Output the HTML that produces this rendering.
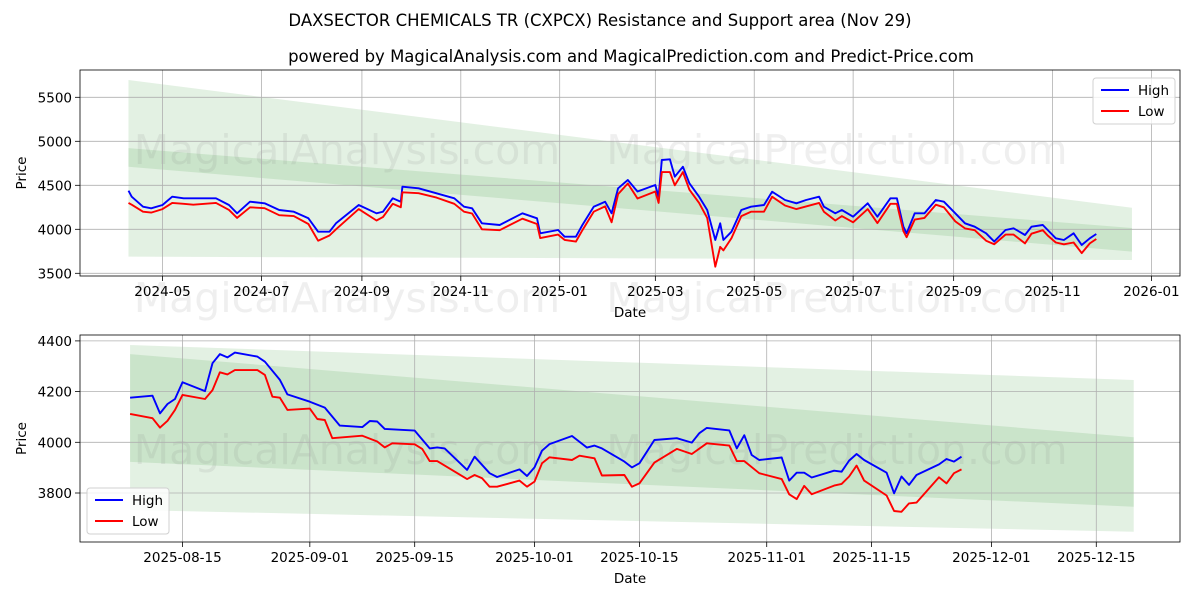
<!DOCTYPE html>
<html><head><meta charset="utf-8"><style>
html,body{margin:0;padding:0;background:#fff}
svg{display:block;font-family:"DejaVu Sans","Liberation Sans",sans-serif}
</style></head><body>
<svg id="c" width="1200" height="600" viewBox="0 0 1200 600" xmlns="http://www.w3.org/2000/svg">
<text x="600" y="26" text-anchor="middle" font-size="16.5" fill="#000">DAXSECTOR CHEMICALS TR (CXPCX) Resistance and Support area (Nov 29)</text>
<text x="631" y="62" text-anchor="middle" font-size="16.5" fill="#000">powered by MagicalAnalysis.com and MagicalPrediction.com and Predict-Price.com</text>
</svg>
<script>
// ---- top chart data ----
const topDates=["2024-04-10","2024-04-12","2024-04-19","2024-04-24","2024-05-01","2024-05-07","2024-05-14","2024-05-20","2024-05-27","2024-06-03","2024-06-11","2024-06-16","2024-06-24","2024-07-03","2024-07-12","2024-07-21","2024-07-30","2024-08-05","2024-08-12","2024-08-16","2024-08-30","2024-09-10","2024-09-14","2024-09-20","2024-09-25","2024-09-26","2024-10-06","2024-10-17","2024-10-28","2024-11-03","2024-11-08","2024-11-14","2024-11-25","2024-12-09","2024-12-18","2024-12-20","2024-12-31","2025-01-04","2025-01-11","2025-01-15","2025-01-22","2025-01-29","2025-02-02","2025-02-06","2025-02-12","2025-02-18","2025-03-01","2025-03-03","2025-03-05","2025-03-10","2025-03-13","2025-03-18","2025-03-22","2025-03-28","2025-04-02","2025-04-07","2025-04-10","2025-04-12","2025-04-17","2025-04-23","2025-04-29","2025-05-07","2025-05-12","2025-05-20","2025-05-27","2025-06-02","2025-06-10","2025-06-13","2025-06-20","2025-06-24","2025-07-01","2025-07-10","2025-07-16","2025-07-24","2025-07-28","2025-08-01","2025-08-03","2025-08-08","2025-08-14","2025-08-21","2025-08-26","2025-09-02","2025-09-08","2025-09-14","2025-09-21","2025-09-26","2025-10-03","2025-10-08","2025-10-15","2025-10-19","2025-10-26","2025-10-29","2025-11-03","2025-11-08","2025-11-14","2025-11-19","2025-11-24","2025-11-28"];
const topHigh=[4439,4370,4257,4239,4276,4370,4352,4352,4352,4352,4276,4182,4314,4295,4219,4200,4125,3973,3973,4068,4276,4182,4200,4352,4314,4484,4466,4409,4352,4257,4239,4068,4049,4182,4125,3955,3992,3916,3916,4049,4257,4314,4182,4466,4560,4430,4503,4370,4788,4795,4598,4711,4523,4370,4219,3878,4068,3878,3973,4219,4257,4276,4427,4333,4295,4333,4370,4257,4182,4219,4143,4295,4143,4352,4352,4030,3955,4182,4182,4333,4314,4182,4068,4030,3955,3860,3992,4011,3935,4030,4049,3992,3898,3878,3955,3822,3898,3947];
const topLow=[4300,4280,4200,4190,4230,4300,4290,4280,4290,4300,4220,4130,4250,4240,4160,4150,4060,3870,3930,4000,4230,4100,4140,4290,4250,4420,4410,4360,4290,4200,4180,4000,3990,4120,4060,3900,3940,3880,3860,3990,4200,4260,4080,4400,4520,4350,4430,4300,4650,4650,4500,4650,4450,4300,4130,3575,3800,3760,3900,4150,4200,4200,4370,4270,4230,4260,4300,4200,4100,4150,4080,4230,4070,4290,4290,3980,3910,4110,4130,4280,4250,4090,4010,3990,3870,3830,3940,3940,3840,3950,3990,3930,3850,3830,3850,3730,3840,3890];
const topBandDates=["2024-04-10","2025-12-20"];
const topBand1Low=[3689,3651], topBand1High=[5697,4245];
const topBand2Low=[4711,3747], topBand2High=[4922,4015];
const topYTicks=[3500,4000,4500,5000,5500];
const topXTicks=["2024-05-01","2024-07-01","2024-09-01","2024-11-01","2025-01-01","2025-03-01","2025-05-01","2025-07-01","2025-09-01","2025-11-01","2026-01-01"];
const topXLabels=["2024-05","2024-07","2024-09","2024-11","2025-01","2025-03","2025-05","2025-07","2025-09","2025-11","2026-01"];
// ---- bottom chart data ----
const botHighDates=["2025-08-08","2025-08-11","2025-08-12","2025-08-13","2025-08-14","2025-08-15","2025-08-18","2025-08-19","2025-08-20","2025-08-21","2025-08-22","2025-08-25","2025-08-26","2025-08-28","2025-08-29","2025-09-01","2025-09-03","2025-09-05","2025-09-08","2025-09-09","2025-09-10","2025-09-11","2025-09-15","2025-09-17","2025-09-18","2025-09-19","2025-09-22","2025-09-23","2025-09-25","2025-09-26","2025-09-29","2025-09-30","2025-10-01","2025-10-02","2025-10-03","2025-10-06","2025-10-08","2025-10-09","2025-10-10","2025-10-13","2025-10-14","2025-10-15","2025-10-17","2025-10-20","2025-10-22","2025-10-23","2025-10-24","2025-10-27","2025-10-28","2025-10-29","2025-10-30","2025-10-31","2025-11-03","2025-11-04","2025-11-05","2025-11-06","2025-11-07","2025-11-10","2025-11-11","2025-11-12","2025-11-13","2025-11-14","2025-11-17","2025-11-18","2025-11-19","2025-11-20","2025-11-21","2025-11-24","2025-11-25","2025-11-26","2025-11-27"];
const botHigh=[4176,4184,4114,4151,4171,4237,4202,4312,4348,4335,4354,4338,4318,4246,4189,4160,4137,4066,4060,4084,4082,4053,4046,3976,3980,3976,3891,3943,3878,3863,3893,3867,3901,3967,3993,4025,3979,3987,3976,3924,3901,3917,4009,4016,3999,4036,4057,4047,3976,4028,3950,3930,3940,3849,3880,3880,3861,3888,3884,3928,3954,3930,3880,3799,3865,3832,3871,3913,3934,3924,3943];
const botLowDates=["2025-08-08","2025-08-11","2025-08-12","2025-08-13","2025-08-14","2025-08-15","2025-08-18","2025-08-19","2025-08-20","2025-08-21","2025-08-22","2025-08-25","2025-08-26","2025-08-27","2025-08-28","2025-08-29","2025-09-01","2025-09-02","2025-09-03","2025-09-04","2025-09-08","2025-09-10","2025-09-11","2025-09-12","2025-09-15","2025-09-16","2025-09-17","2025-09-18","2025-09-22","2025-09-23","2025-09-24","2025-09-25","2025-09-26","2025-09-29","2025-09-30","2025-10-01","2025-10-02","2025-10-03","2025-10-06","2025-10-07","2025-10-09","2025-10-10","2025-10-13","2025-10-14","2025-10-15","2025-10-17","2025-10-20","2025-10-22","2025-10-24","2025-10-27","2025-10-28","2025-10-29","2025-10-31","2025-11-03","2025-11-04","2025-11-05","2025-11-06","2025-11-07","2025-11-10","2025-11-11","2025-11-12","2025-11-13","2025-11-14","2025-11-17","2025-11-18","2025-11-19","2025-11-20","2025-11-21","2025-11-24","2025-11-25","2025-11-26","2025-11-27"];
const botLow=[4112,4095,4058,4085,4128,4187,4171,4206,4276,4268,4285,4285,4266,4180,4176,4128,4133,4092,4088,4016,4026,4003,3980,3996,3992,3974,3926,3926,3855,3871,3858,3825,3825,3849,3825,3845,3917,3941,3930,3947,3937,3869,3871,3825,3838,3920,3974,3954,3996,3987,3926,3926,3878,3855,3795,3776,3828,3795,3829,3836,3865,3908,3849,3790,3729,3726,3759,3762,3862,3838,3878,3893];
const botBandDates=["2025-08-08","2025-12-20"];
const botBand1Low=[3733,3647], botBand1High=[4384,4246];
const botBand2Low=[3923,3746], botBand2High=[4348,4020];
const botYTicks=[3800,4000,4200,4400];
const botXTicks=["2025-08-15","2025-09-01","2025-09-15","2025-10-01","2025-10-15","2025-11-01","2025-11-15","2025-12-01","2025-12-15"];

const NS="http://www.w3.org/2000/svg";
const svg=document.getElementById('c');
function mk(tag,attrs,parent){const e=document.createElementNS(NS,tag);for(const k in attrs)e.setAttribute(k,attrs[k]);(parent||svg).appendChild(e);return e;}
function dnum(s){return Date.UTC(+s.slice(0,4),+s.slice(5,7)-1,+s.slice(8,10))/86400000;}

function drawPanel(o){
  const g=mk('g',{});
  
  
  const X=d=>o.x0+(dnum(d)-dnum(o.xRef))*o.pxDay;
  const Y=v=>o.y0-(v-o.vRef)*o.pxVal;
  [[o.b1L,o.b1H,'support-resistance-band-outer'],[o.b2L,o.b2H,'support-resistance-band-inner']].forEach(b=>{
    const pts=[[X(o.bD[0]),Y(b[1][0])],[X(o.bD[1]),Y(b[1][1])],[X(o.bD[1]),Y(b[0][1])],[X(o.bD[0]),Y(b[0][0])]];
    const p=mk('polygon',{points:pts.map(q=>q.join(',')).join(' '),fill:'#008000','fill-opacity':'0.11'},g);
    
    
  });
  o.wm.forEach(w=>{const t=mk('text',{x:w[0],y:w[1],'font-size':'41','fill':'#808080','fill-opacity':'0.13','text-anchor':'middle'},g);t.textContent=w[2];
    
    });
  o.yT.forEach(v=>{const y=Y(v);
    mk('line',{x1:o.L,x2:o.R,y1:y,y2:y,stroke:'#b0b0b0','stroke-width':'0.8'},g);
    mk('line',{x1:o.L-5,x2:o.L,y1:y,y2:y,stroke:'#000','stroke-width':'0.8'},g);
    const t=mk('text',{x:o.L-8,y:y+5,'font-size':'13.5','text-anchor':'end'},g);t.textContent=v;
    
    });
  o.xT.forEach((d,i)=>{const x=X(d);
    mk('line',{x1:x,x2:x,y1:o.T,y2:o.B,stroke:'#b0b0b0','stroke-width':'0.8'},g);
    mk('line',{x1:x,x2:x,y1:o.B,y2:o.B+5,stroke:'#000','stroke-width':'0.8'},g);
    const t=mk('text',{x:x,y:o.B+20,'font-size':'13.5','text-anchor':'middle'},g);t.textContent=o.xL[i];
    
    });
  [[o.hD,o.hV,'#0000ff','high-line'],[o.lD,o.lV,'#ff0000','low-line']].forEach(s=>{
    const pts=s[0].map((d,i)=>X(d).toFixed(1)+','+Y(s[1][i]).toFixed(1)).join(' ');
    const pl=mk('polyline',{points:pts,fill:'none',stroke:s[2],'stroke-width':'1.9','stroke-linejoin':'round'},g);
    
    
  });
  const fr=mk('rect',{x:o.L,y:o.T,width:o.R-o.L,height:o.B-o.T,fill:'none',stroke:'#000','stroke-width':'0.8'},g);
  
  
  const yl=mk('text',{x:0,y:0,'font-size':'13.5','text-anchor':'middle',transform:`translate(26,${(o.T+o.B)/2}) rotate(-90)`},g);yl.textContent='Price';
  
  
  const xl=mk('text',{x:(o.L+o.R)/2,y:o.B+41,'font-size':'13.5','text-anchor':'middle'},g);xl.textContent='Date';
  
  
  const lg=mk('g',{},g);
  
  
  mk('rect',{x:o.lx,y:o.ly,width:82,height:46,rx:3,fill:'#fff','fill-opacity':'0.8',stroke:'#d0d0d0'},lg);
  [['High','#0000ff'],['Low','#ff0000']].forEach((e,i)=>{
    const yy=o.ly+12+i*21;
    const ln=mk('line',{x1:o.lx+8,x2:o.lx+36,y1:yy,y2:yy,stroke:e[1],'stroke-width':'1.9'},lg);
    
    
    const t=mk('text',{x:o.lx+45,y:yy+5,'font-size':'13.5'},lg);t.textContent=e[0];
    
    
  });
}
drawPanel({name:'top-chart',L:80,R:1180,T:70,B:276,x0:162.5,xRef:'2024-05-01',pxDay:1.6212,y0:229.3,vRef:4000,pxVal:0.088,
  bD:topBandDates,b1L:topBand1Low,b1H:topBand1High,b2L:topBand2Low,b2H:topBand2High,
  yT:topYTicks,xT:topXTicks,xL:topXLabels,hD:topDates,hV:topHigh,lD:topDates,lV:topLow,lx:1093,ly:78,
  wm:[[347,164,'MagicalAnalysis.com'],[837,164,'MagicalPrediction.com'],[347,312,'MagicalAnalysis.com'],[837,312,'MagicalPrediction.com']]});
drawPanel({name:'bottom-chart',L:80,R:1180,T:335,B:542,x0:182.5,xRef:'2025-08-15',pxDay:7.49,y0:442.3,vRef:4000,pxVal:0.2535,
  bD:botBandDates,b1L:botBand1Low,b1H:botBand1High,b2L:botBand2Low,b2H:botBand2High,
  yT:botYTicks,xT:botXTicks,xL:botXTicks,hD:botHighDates,hV:botHigh,lD:botLowDates,lV:botLow,lx:87,ly:488,
  wm:[[347,464,'MagicalAnalysis.com'],[837,464,'MagicalPrediction.com']]});
</script>
</body></html>
